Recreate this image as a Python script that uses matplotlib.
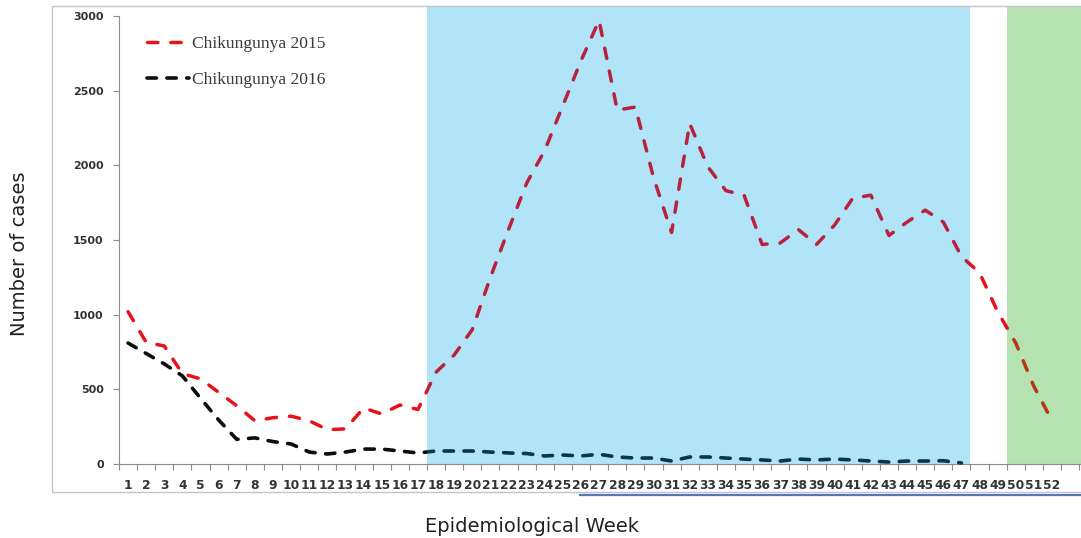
import matplotlib
matplotlib.use("Agg")
import matplotlib.pyplot as plt
from matplotlib.patches import Rectangle
from matplotlib.lines import Line2D
from matplotlib.font_manager import FontProperties
import numpy as np

# weekly chikungunya cases
weeks_2015 = list(range(1, 53))
cases_2015 = [1020, 815, 790, 605, 570, 480, 390, 290, 310, 320,
              290, 230, 235, 375, 335, 395, 365, 615, 730, 900,
              1250, 1570, 1880, 2100, 2400, 2700, 2970, 2370, 2390, 1920,
              1550, 2280, 1990, 1830, 1800, 1470, 1480, 1570, 1470, 1600,
              1780, 1800, 1530, 1620, 1700, 1620, 1390, 1280, 1020, 810,
              520, 290]
weeks_2016 = list(range(1, 48))
cases_2016 = [810, 740, 670, 590, 440, 295, 165, 175, 150, 134,
              80, 67, 80, 100, 100, 87, 74, 87, 87, 87,
              80, 74, 70, 54, 60, 54, 65, 47, 40, 40,
              20, 47, 47, 40, 33, 27, 20, 33, 27, 33,
              27, 20, 13, 20, 20, 22, 7]
week_labels = [str(w) for w in range(1, 53)]
y_ticks = [0, 500, 1000, 1500, 2000, 2500, 3000]

# shaded periods (week boundaries)
blue_span = (17.5, 47.5)
green_span = (49.5, 53.6)

W, H = 1081, 538
fig = plt.figure(figsize=(W / 100, H / 100), dpi=100)
ax = fig.add_axes([119 / W, 1 - 464 / H, 1 - 119 / W, (464 - 7) / H])

ax.axvspan(*blue_span, color="#b1e4f7", lw=0, zorder=0)
ax.axvspan(*green_span, color="#b5e2b1", lw=0, zorder=0)

# colour of each line inside every x region (lines look tinted over the shading)
regions = [(0.5, 17.5, "#e8121c", "#0d0d0d"),
           (17.5, 47.5, "#b8223f", "#0d3447"),
           (47.5, 49.5, "#e8121c", "#0d0d0d"),
           (49.5, 54.0, "#b3381a", "#0d0d0d")]

handles = []
for i, (x0, x1, c15, c16) in enumerate(regions):
    l15, = ax.plot(weeks_2015, cases_2015, color=c15, lw=2.5,
                   dashes=(3.0, 3.7), dash_capstyle="round", zorder=3)
    l16, = ax.plot(weeks_2016, cases_2016, color=c16, lw=2.6,
                   dashes=(2.6, 2.9), dash_capstyle="round", zorder=3)
    for ln in (l15, l16):
        clip = Rectangle((x0, -500), x1 - x0, 5000, transform=ax.transData)
        ln.set_clip_path(clip)
    if i == 0:
        handles = [l15, l16]

ax.set_xlim(0.5, 53.6)
ax.set_ylim(0, 3060)

for s in ("top", "right"):
    ax.spines[s].set_visible(False)
ax.spines["left"].set_bounds(0, 3000)
ax.spines["left"].set_color("#8c8c8c")
ax.spines["bottom"].set_color("#8c8c8c")

ax.set_yticks(y_ticks)
ax.set_yticklabels([str(v) for v in y_ticks], fontweight="bold",
                   fontsize=8, color="#333333")
ax.tick_params(axis="y", length=4, width=0.8, color="#8c8c8c", pad=7)

ax.set_xticks(weeks_2015)
ax.set_xticklabels(week_labels, fontweight="bold", fontsize=8.8, color="#333333")
ax.set_xticks(np.arange(0.5, 54, 1), minor=True)
ax.tick_params(axis="x", which="major", length=0, pad=11)
ax.tick_params(axis="x", which="minor", length=4, width=0.8, color="#8c8c8c")

leg = ax.legend(handles, ["Chikungunya 2015", "Chikungunya 2016"],
                loc="upper left", bbox_to_anchor=(147 / W, 1 - 36 / H),
                bbox_transform=fig.transFigure, frameon=False,
                prop=FontProperties(family="Liberation Serif", size=12.6),
                handlelength=2.4, handletextpad=0.2, labelspacing=1.1,
                borderpad=0, borderaxespad=0)
for t in leg.get_texts():
    t.set_color("#3a3a3a")

fig.text(532 / W, 1 - 526 / H, "Epidemiological Week", fontsize=14,
         ha="center", va="center", color="#222222")
fig.text(20 / W, 1 - 254 / H, "Number of cases", fontsize=14, rotation=90,
         ha="center", va="center", color="#222222")

# outer chart frame and stray underline from the source image
fig.add_artist(Rectangle((52 / W, 1 - 492 / H), 1.5, (492 - 6) / H,
                         transform=fig.transFigure, fill=False,
                         edgecolor="#c4c4c4", lw=1))
fig.add_artist(Line2D([580 / W, 1.0], [1 - 495 / H] * 2,
                      transform=fig.transFigure, color="#5577b5", lw=1.6))

fig.savefig("out.png", dpi=100)
